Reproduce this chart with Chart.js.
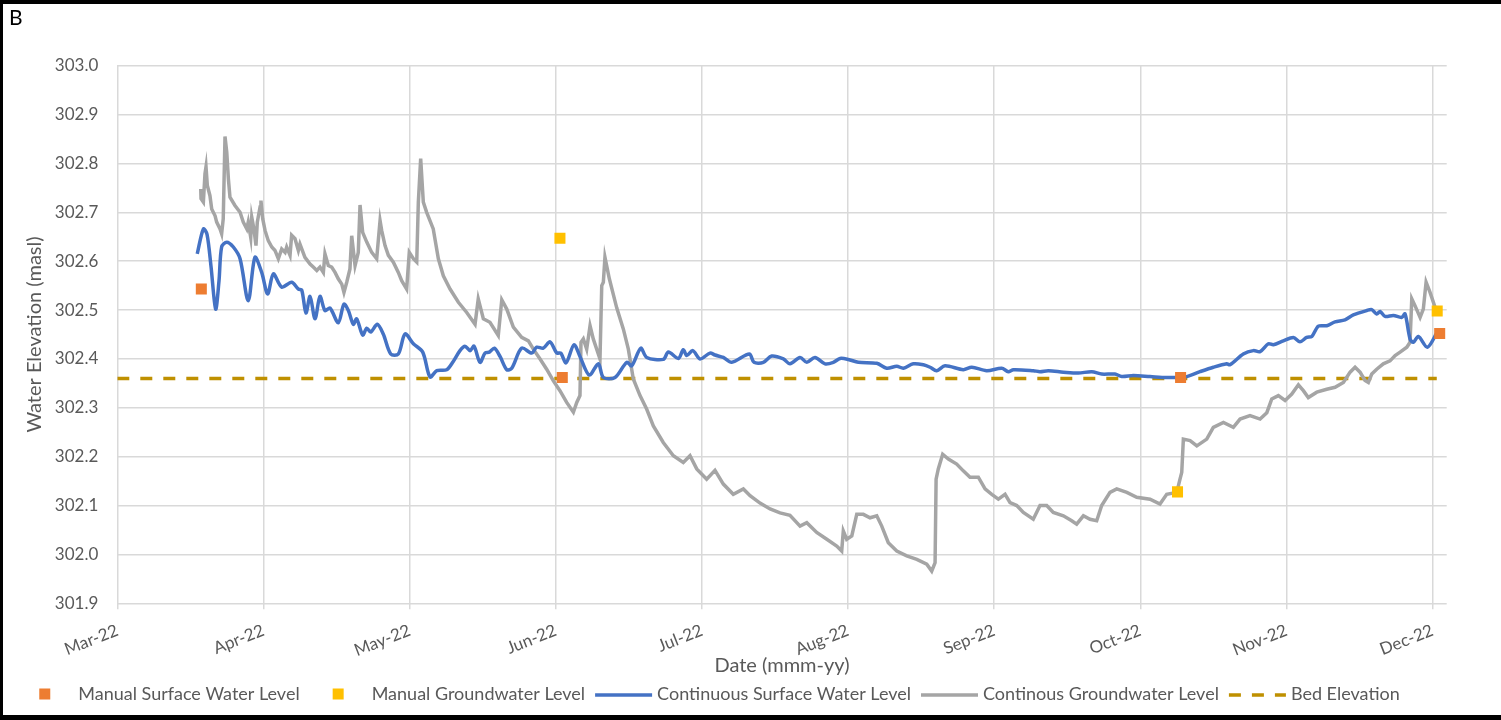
<!DOCTYPE html>
<html>
<head>
<meta charset="utf-8">
<script src="https://cdn.jsdelivr.net/npm/chart.js@4.4.1/dist/chart.umd.min.js"></script>
<style>
  html, body { margin: 0; padding: 0; background: #ffffff; }
  canvas { display: block; }
</style>
</head>
<body>
<canvas id="chart" width="1501" height="720"></canvas>
<script>
// Time axis: months elapsed since 1 Mar 2022
const xTickPos = [0, 1, 2, 3, 4, 5, 6, 7, 8, 9];
const xTickLabels = ['Mar-22', 'Apr-22', 'May-22', 'Jun-22', 'Jul-22', 'Aug-22', 'Sep-22', 'Oct-22', 'Nov-22', 'Dec-22'];
const yTicks = [301.9, 302.0, 302.1, 302.2, 302.3, 302.4, 302.5, 302.6, 302.7, 302.8, 302.9, 303.0];

// Manual readings
const swManualT = [0.575, 3.045, 7.276, 9.049];
const swManualLevel = [302.543, 302.362, 302.362, 302.452];
const gwManualT = [3.029, 7.255, 9.032];
const gwManualLevel = [302.647, 302.128, 302.498];

// Logger record, surface water
const swContT = [0.547,0.589,0.614,0.641,0.673,0.696,0.714,0.749,0.794,0.840,0.896,0.942,0.988,1.029,1.068,1.125,1.193,1.239,1.262,1.291,1.319,1.353,1.387,1.421,1.456,1.512,1.551,1.581,1.615,1.638,1.679,1.707,1.734,1.779,1.820,1.871,1.923,1.969,2.026,2.090,2.140,2.186,2.254,2.299,2.345,2.379,2.414,2.441,2.482,2.516,2.546,2.580,2.619,2.665,2.699,2.767,2.836,2.870,2.915,2.961,3.007,3.034,3.071,3.125,3.166,3.230,3.292,3.326,3.406,3.486,3.520,3.582,3.623,3.736,3.771,3.839,3.873,3.897,3.938,3.988,4.056,4.090,4.147,4.204,4.325,4.357,4.421,4.478,4.558,4.603,4.672,4.718,4.774,4.843,4.900,4.946,5.002,5.071,5.197,5.265,5.334,5.379,5.447,5.516,5.562,5.607,5.664,5.789,5.847,5.949,6.052,6.097,6.132,6.268,6.314,6.371,6.474,6.576,6.668,6.736,6.827,6.873,6.953,7.067,7.181,7.306,7.409,7.500,7.592,7.614,7.705,7.774,7.820,7.877,7.911,7.979,8.048,8.093,8.139,8.174,8.219,8.276,8.333,8.401,8.458,8.550,8.584,8.618,8.641,8.675,8.732,8.789,8.812,8.846,8.869,8.903,8.965,9.029];
const swContLevel = [302.615,302.666,302.655,302.590,302.502,302.560,302.629,302.639,302.629,302.605,302.519,302.608,302.577,302.533,302.574,302.547,302.557,302.543,302.541,302.494,302.528,302.482,302.528,302.499,302.504,302.474,302.512,302.499,302.471,302.482,302.449,302.463,302.455,302.471,302.451,302.410,302.410,302.451,302.431,302.414,302.363,302.376,302.378,302.395,302.417,302.426,302.417,302.426,302.393,302.412,302.414,302.422,302.405,302.378,302.381,302.422,302.412,302.424,302.422,302.435,302.412,302.412,302.392,302.429,302.405,302.367,302.390,302.362,302.362,302.393,302.386,302.422,302.403,302.399,302.414,302.401,302.419,302.407,302.417,302.400,302.412,302.408,302.403,302.393,302.410,302.393,302.393,302.406,302.400,302.390,302.403,302.393,302.403,302.390,302.393,302.401,302.399,302.393,302.391,302.381,302.385,302.381,302.390,302.388,302.383,302.376,302.386,302.378,302.383,302.376,302.381,302.374,302.378,302.376,302.374,302.376,302.373,302.371,302.374,302.369,302.369,302.364,302.366,302.364,302.362,302.363,302.374,302.383,302.390,302.388,302.410,302.417,302.415,302.431,302.429,302.437,302.444,302.435,302.444,302.446,302.467,302.468,302.476,302.480,302.490,302.499,302.501,302.492,302.497,302.487,302.489,302.485,302.492,302.441,302.434,302.446,302.424,302.453];

// Logger record, groundwater
const gwContT = [0.571,0.573,0.589,0.600,0.607,0.616,0.634,0.646,0.669,0.680,0.703,0.714,0.725,0.737,0.749,0.760,0.771,0.805,0.840,0.862,0.886,0.896,0.913,0.920,0.935,0.949,0.958,0.977,0.983,0.995,1.011,1.033,1.057,1.079,1.102,1.125,1.148,1.159,1.182,1.193,1.216,1.239,1.250,1.284,1.319,1.341,1.365,1.387,1.410,1.421,1.444,1.467,1.490,1.512,1.536,1.551,1.570,1.592,1.604,1.627,1.649,1.661,1.679,1.707,1.741,1.775,1.798,1.809,1.832,1.855,1.889,1.923,1.946,1.980,1.998,2.026,2.049,2.060,2.076,2.094,2.117,2.162,2.197,2.231,2.277,2.334,2.391,2.448,2.470,2.505,2.550,2.607,2.631,2.665,2.710,2.767,2.813,2.847,2.893,2.938,2.984,3.029,3.075,3.121,3.144,3.166,3.173,3.189,3.212,3.235,3.257,3.303,3.315,3.326,3.337,3.367,3.417,3.463,3.497,3.531,3.577,3.623,3.668,3.736,3.805,3.873,3.919,3.965,4.033,4.090,4.147,4.215,4.284,4.330,4.398,4.467,4.535,4.603,4.672,4.718,4.786,4.855,4.923,4.957,4.968,4.991,5.026,5.060,5.105,5.151,5.197,5.231,5.276,5.334,5.402,5.471,5.539,5.573,5.596,5.603,5.618,5.648,5.687,5.744,5.789,5.835,5.892,5.938,5.984,6.029,6.075,6.109,6.155,6.200,6.268,6.314,6.360,6.405,6.474,6.531,6.565,6.611,6.656,6.702,6.736,6.793,6.839,6.908,6.976,7.067,7.135,7.181,7.250,7.272,7.284,7.295,7.341,7.387,7.455,7.500,7.569,7.637,7.683,7.751,7.820,7.866,7.900,7.945,7.991,8.037,8.082,8.116,8.150,8.208,8.276,8.333,8.390,8.436,8.470,8.504,8.538,8.561,8.584,8.618,8.663,8.709,8.744,8.778,8.824,8.846,8.858,8.880,8.915,8.937,8.956,8.983,9.017,9.051];
const gwContLevel = [302.748,302.728,302.721,302.779,302.793,302.755,302.734,302.707,302.693,302.680,302.666,302.656,302.687,302.855,302.823,302.769,302.731,302.714,302.700,302.680,302.666,302.680,302.649,302.690,302.666,302.632,302.680,302.711,302.724,302.687,302.663,302.642,302.629,302.622,302.605,302.625,302.618,302.629,302.612,302.653,302.646,302.622,302.635,302.608,302.594,302.588,302.581,302.588,302.577,302.615,302.591,302.588,302.577,302.564,302.553,302.536,302.557,302.584,302.652,302.591,302.618,302.715,302.659,302.639,302.618,302.605,302.683,302.663,302.632,302.612,302.598,302.577,302.560,302.543,302.618,302.605,302.598,302.721,302.810,302.721,302.700,302.666,302.605,302.570,302.543,302.516,302.495,302.471,302.523,302.482,302.475,302.448,302.521,302.502,302.465,302.444,302.437,302.420,302.400,302.379,302.355,302.335,302.311,302.291,302.311,302.325,302.434,302.441,302.420,302.468,302.441,302.400,302.550,302.557,302.608,302.564,302.505,302.461,302.420,302.359,302.325,302.297,302.263,302.229,302.202,302.188,302.202,302.175,302.154,302.172,302.144,302.123,302.134,302.120,302.105,302.093,302.085,302.080,302.058,302.065,302.045,302.031,302.017,302.007,302.048,302.031,302.038,302.082,302.082,302.075,302.079,302.058,302.024,302.007,301.997,301.990,301.980,301.966,301.983,302.154,302.175,302.205,302.195,302.185,302.171,302.158,302.158,302.134,302.123,302.113,302.123,302.106,302.100,302.086,302.072,302.100,302.100,302.086,302.079,302.069,302.062,302.079,302.072,302.069,302.100,302.127,302.134,302.127,302.117,302.113,302.103,302.123,302.127,302.154,302.168,302.236,302.233,302.222,302.236,302.260,302.270,302.260,302.277,302.284,302.277,302.290,302.318,302.325,302.315,302.328,302.347,302.335,302.321,302.332,302.338,302.342,302.352,302.373,302.383,302.373,302.356,302.352,302.369,302.379,302.390,302.396,302.407,302.414,302.424,302.434,302.523,302.509,302.485,302.502,302.557,302.536,302.506,302.499];

// Streambed reference elevation
const bedT = [0, 9.029];
const bedLevel = [302.36, 302.36];

const pairs = (t, v) => t.map((x, i) => ({ x: x, y: v[i] }));

const TEXT = '#595959';
const GRID = '#D9D9D9';
const FONT = 'Lato';

// Frame, panel letter and series key drawn around the plot
const decorations = {
  id: 'decorations',
  afterDraw(chart) {
    const ctx = chart.ctx;
    ctx.save();
    // frame
    ctx.fillStyle = '#000000';
    ctx.fillRect(0, 0, 1501, 4);
    ctx.fillRect(0, 0, 3, 720);
    ctx.fillRect(0, 715, 1501, 5);
    // panel letter
    ctx.font = '21px ' + FONT;
    ctx.textBaseline = 'alphabetic';
    ctx.textAlign = 'left';
    ctx.fillText('B', 9, 25);

    // series key
    ctx.font = '18px ' + FONT;
    const sym = 57, gap = 5, spacing = 10;
    const items = chart.data.datasets.map(ds => ({ ds: ds, w: ctx.measureText(ds.label).width }));
    const total = items.reduce((a, it) => a + sym + gap + it.w, 0) + spacing * (items.length - 1);
    let x = 708 - total / 2;
    const y = 694;
    items.forEach(({ ds, w }) => {
      if (ds.showLine === false) {
        const s = 11;
        ctx.fillStyle = ds.backgroundColor;
        ctx.fillRect(x + sym / 2 - s / 2, y - s / 2, s, s);
      } else {
        ctx.strokeStyle = ds.borderColor;
        ctx.lineWidth = ds.borderWidth;
        ctx.setLineDash(ds.borderDash || []);
        ctx.beginPath();
        ctx.moveTo(x, y + 1);
        ctx.lineTo(x + sym, y + 1);
        ctx.stroke();
        ctx.setLineDash([]);
      }
      ctx.fillStyle = TEXT;
      ctx.textBaseline = 'middle';
      ctx.textAlign = 'left';
      ctx.fillText(ds.label, x + sym + gap, y);
      x += sym + gap + w + spacing;
    });
    ctx.restore();
  }
};

function draw() {
  new Chart(document.getElementById('chart'), {
    type: 'line',
    data: {
      datasets: [
        {
          label: 'Manual Surface Water Level',
          data: pairs(swManualT, swManualLevel),
          showLine: false,
          pointStyle: 'rect',
          pointRadius: 7.8,
          pointBorderWidth: 0,
          backgroundColor: '#ED7D31',
          borderColor: '#ED7D31'
        },
        {
          label: 'Manual Groundwater Level',
          data: pairs(gwManualT, gwManualLevel),
          showLine: false,
          pointStyle: 'rect',
          pointRadius: 7.8,
          pointBorderWidth: 0,
          backgroundColor: '#FFC000',
          borderColor: '#FFC000'
        },
        {
          label: 'Continuous Surface Water Level',
          data: pairs(swContT, swContLevel),
          borderColor: '#4472C4',
          backgroundColor: '#4472C4',
          borderWidth: 3.5,
          pointRadius: 0,
          tension: 0.3
        },
        {
          label: 'Continous Groundwater Level',
          data: pairs(gwContT, gwContLevel),
          borderColor: '#A5A5A5',
          backgroundColor: '#A5A5A5',
          borderWidth: 3.5,
          pointRadius: 0,
          tension: 0
        },
        {
          label: 'Bed Elevation',
          data: pairs(bedT, bedLevel),
          borderColor: '#BF9000',
          backgroundColor: '#BF9000',
          borderWidth: 3.5,
          borderDash: [12, 11],
          pointRadius: 0,
          tension: 0
        }
      ]
    },
    options: {
      responsive: false,
      animation: false,
      devicePixelRatio: 1,
      layout: { padding: { left: 4, top: 65.7, right: 54.3, bottom: 40 } },
      plugins: {
        legend: { display: false },
        tooltip: { enabled: false }
      },
      scales: {
        x: {
          type: 'linear',
          min: 0,
          max: 9.097,
          afterBuildTicks: s => { s.ticks = xTickPos.map(v => ({ value: v })); },
          afterFit: s => { s.height = 76.7; },
          ticks: {
            autoSkip: false,
            minRotation: 21.5,
            maxRotation: 21.5,
            padding: 11,
            color: TEXT,
            font: { family: FONT, size: 17 },
            callback: v => xTickLabels[xTickPos.indexOf(v)]
          },
          grid: { color: GRID, lineWidth: 1.5, drawTicks: true, tickLength: 6 },
          border: { display: false },
          title: {
            display: true,
            text: 'Date (mmm-yy)',
            color: TEXT,
            font: { family: FONT, size: 20 },
            padding: { top: 0, bottom: 2 }
          }
        },
        y: {
          type: 'linear',
          min: 301.9,
          max: 303.0,
          afterBuildTicks: s => { s.ticks = yTicks.map(v => ({ value: v })); },
          afterFit: s => { s.width = 113.3; },
          ticks: {
            padding: 19,
            color: TEXT,
            font: { family: FONT, size: 17 },
            callback: v => Number(v).toFixed(1)
          },
          grid: { color: GRID, lineWidth: 1.5, drawTicks: false },
          border: { display: false },
          title: {
            display: true,
            text: 'Water Elevation (masl)',
            color: TEXT,
            font: { family: FONT, size: 20 },
            padding: { top: 19, bottom: 0 }
          }
        }
      }
    },
    plugins: [decorations]
  });
}

const fontReady = document.fonts && document.fonts.load
  ? Promise.all([document.fonts.load('17px ' + FONT), document.fonts.load('20px ' + FONT)]).catch(() => {})
  : Promise.resolve();
fontReady.then(draw);
</script>
</body>
</html>
